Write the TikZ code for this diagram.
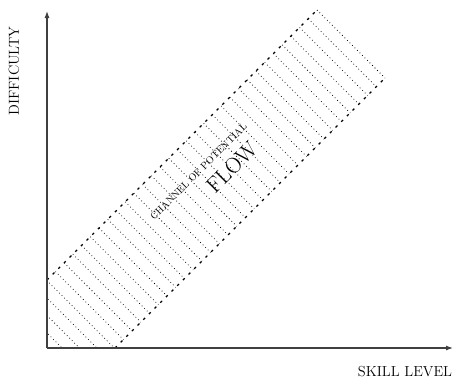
\documentclass[tikz,border=0pt]{standalone}
\usetikzlibrary{arrows.meta}
\begin{document}
\begin{tikzpicture}[x=1pt,y=-1pt,
  axis/.style={draw=black!75,line width=1.1pt,-{Latex[length=7pt,width=5pt]}},
  hatch/.style={line width=0.75pt,dash pattern=on 0.75pt off 2.8pt},
  edge/.style={line width=1.3pt,dash pattern=on 2.5pt off 5.5pt},
  axlabel/.style={font=\fontsize{14.5}{16}\selectfont,inner sep=0pt}]
\useasboundingbox (0,0) rectangle (455,381);
% channel hatching
\begin{scope}
\clip (47,0) rectangle (455,348);
\foreach \k in {0,...,34}{
  \pgfmathsetmacro\c{307-\k*17.44}
  \draw[hatch] ({(327+\c)/2},{(327-\c)/2}) -- ({(463+\c)/2},{(463-\c)/2});
}
\end{scope}
% channel edges
\coordinate (U0) at (47,280);
\coordinate (T) at (317,10);
\coordinate (L0) at (115,348);
\coordinate (R) at (385,78);
\draw[edge] (U0) -- (T);
\draw[edge] (L0) -- (R);
% axes
\coordinate (O) at (47,348);
\coordinate (Ytop) at (47,11);
\coordinate (Xend) at (453,348);
\draw[axis] (O) -- (Ytop);
\draw[axis] (O) -- (Xend);
% labels
\node[axlabel,rotate=90] (ylab) at (14,71) {DIFFICULTY};
\node[axlabel] (xlab) at (405,372) {SKILL LEVEL};
\node[font=\fontsize{10}{12}\selectfont,rotate=45,inner sep=0pt,anchor=base] (chan) at (201,174) {CHANNEL OF POTENTIAL};
\node[font=\fontsize{22}{24}\selectfont,rotate=45,inner sep=0pt,anchor=base] (flow) at (237,173) {FLOW};
\end{tikzpicture}
\end{document}
